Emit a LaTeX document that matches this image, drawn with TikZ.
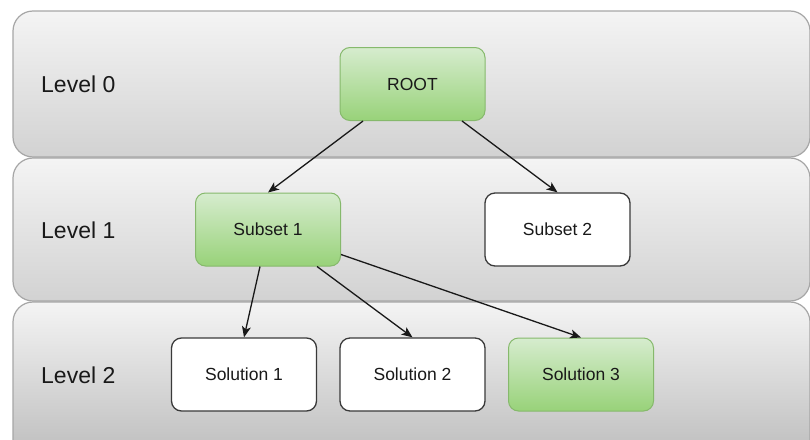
\documentclass[tikz,border=0pt]{standalone}
\usepackage{fontspec}
\setmainfont{Liberation Sans}
\usetikzlibrary{arrows.meta}

\definecolor{bandtop}{HTML}{F4F4F4}
\definecolor{bandbot}{HTML}{D2D2D2}
\definecolor{bandline}{HTML}{A6A6A6}
\definecolor{greentop}{HTML}{D6ECCE}
\definecolor{greenbot}{HTML}{98D279}
\definecolor{greenline}{HTML}{86B96C}
\definecolor{boxline}{HTML}{3A3A3A}

\tikzset{
  band/.style={draw=bandline, line width=1.2pt, rounded corners=20pt,
               top color=bandtop, bottom color=bandbot},
  levellabel/.style={anchor=west, inner sep=0pt, font=\fontsize{23}{27}\selectfont, text=black!90},
  stage/.style={rounded corners=10pt, minimum width=145pt, minimum height=73pt,
                inner sep=0pt, font=\fontsize{17.5}{21}\selectfont, text=black!90},
  greenbox/.style={stage, draw=greenline, line width=1pt,
                   top color=greentop, bottom color=greenbot},
  whitebox/.style={stage, draw=boxline, line width=1.3pt, fill=white},
  link/.style={draw=black!90, line width=1.3pt,
               -{Stealth[length=11pt, width=9pt, inset=3pt]}}
}

\begin{document}
\begin{tikzpicture}[x=1pt, y=-1pt]
  \useasboundingbox (0,0) rectangle (810,439);
  \fill[white] (0,0) rectangle (810,439);

  % level bands
  \path[band] (13,11) rectangle (810,157);
  \path[band] (13,158) rectangle (810,301);
  \path[band, bottom color=bandbot!88!black] (13,302) rectangle (810,470);

  \node[levellabel] (l0) at (41,84) {Level 0};
  \node[levellabel] (l1) at (41,230) {Level 1};
  \node[levellabel] (l2) at (41,375) {Level 2};

  % tree nodes
  \node[greenbox] (root) at (412.5,84) {ROOT};
  \node[greenbox] (s1) at (268,229.5) {Subset 1};
  \node[whitebox] (s2) at (557.5,229.5) {Subset 2};
  \node[whitebox] (x1) at (244,374.5) {Solution 1};
  \node[whitebox] (x2) at (412.5,374.5) {Solution 2};
  \node[greenbox] (x3) at (581,374.5) {Solution 3};

  % connectors
  \draw[link] ([xshift=-49.5pt]root.south) -- (s1.north);
  \draw[link] ([xshift=49.5pt]root.south) -- (s2.north);
  \draw[link] ([xshift=-8pt]s1.south) -- (x1.north);
  \draw[link] ([xshift=49pt]s1.south) -- (x2.north);
  \draw[link] ([yshift=-25pt]s1.east) -- (x3.north);
\end{tikzpicture}
\end{document}
